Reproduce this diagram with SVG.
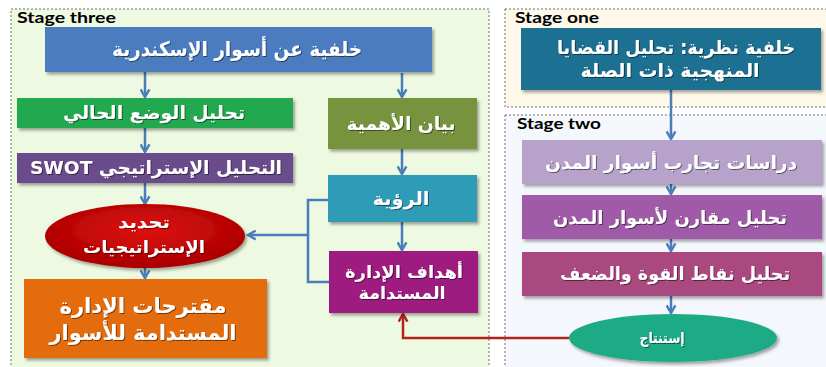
<svg xmlns="http://www.w3.org/2000/svg" width="826" height="367" viewBox="0 0 826 367">
<defs>
<style>
.panel{stroke:#6e6e6e;stroke-width:1;stroke-dasharray:2,2}
.stage{font-family:Lato,"Open Sans","DejaVu Sans",sans-serif;font-weight:bold;font-size:16px;fill:#000}
.t{font-family:"DejaVu Sans",sans-serif;font-weight:bold;fill:#fff;text-anchor:middle;dominant-baseline:central;direction:rtl}
.c{fill:none;stroke:#4a7ebb;stroke-width:2.5}
.cr{fill:none;stroke:#b3221c;stroke-width:2.5}
.box{filter:url(#sh)}
</style>
<filter id="sh" x="-10%" y="-10%" width="130%" height="140%">
<feDropShadow dx="2" dy="2.5" stdDeviation="1.5" flood-color="#000" flood-opacity="0.35"/>
</filter>
<filter id="ts" x="-5%" y="-20%" width="110%" height="150%">
<feDropShadow dx="1" dy="1" stdDeviation="0.6" flood-color="#000" flood-opacity="0.5"/>
</filter>
<radialGradient id="redg" cx="50%" cy="40%" r="60%">
<stop offset="0" stop-color="#e01010"/>
<stop offset="1" stop-color="#a80000"/>
</radialGradient>
<marker id="ab" markerUnits="userSpaceOnUse" viewBox="0 0 10 10" refX="8.5" refY="5" markerWidth="11" markerHeight="11" orient="auto">
<path d="M1.5,1 L8.5,5 L1.5,9" fill="none" stroke="#4a7ebb" stroke-width="2.2"/>
</marker>
<marker id="ar" markerUnits="userSpaceOnUse" viewBox="0 0 10 10" refX="8.5" refY="5" markerWidth="11" markerHeight="11" orient="auto">
<path d="M1.5,1 L8.5,5 L1.5,9" fill="none" stroke="#b3221c" stroke-width="2.2"/>
</marker>
</defs>

<g id="panels">
<rect class="panel" x="11" y="9" width="478" height="360" fill="#eef9e1"/>
<rect class="panel" x="505" y="9" width="325" height="98" fill="#fdf8e9"/>
<rect class="panel" x="505" y="115" width="325" height="260" fill="#f4f7fb"/>
<text class="stage" x="17" y="23" textLength="99" lengthAdjust="spacingAndGlyphs">Stage three</text>
<text class="stage" x="515" y="23" textLength="84" lengthAdjust="spacingAndGlyphs">Stage one</text>
<text class="stage" x="517" y="129" textLength="84" lengthAdjust="spacingAndGlyphs">Stage two</text>
</g>

<g id="connectors">
<line class="c" x1="145" y1="72" x2="145" y2="97" marker-end="url(#ab)"/>
<line class="c" x1="402" y1="73" x2="402" y2="97" marker-end="url(#ab)"/>
<line class="c" x1="145" y1="128" x2="145" y2="152" marker-end="url(#ab)"/>
<line class="c" x1="145" y1="183" x2="145" y2="204" marker-end="url(#ab)"/>
<line class="c" x1="145" y1="268" x2="145" y2="278" marker-end="url(#ab)"/>
<line class="c" x1="402" y1="149" x2="402" y2="174" marker-end="url(#ab)"/>
<line class="c" x1="402" y1="222" x2="402" y2="250" marker-end="url(#ab)"/>
<polyline class="c" points="328,200 308,200 308,282 329,282"/>
<line class="c" x1="308" y1="235" x2="248" y2="235" marker-end="url(#ab)"/>
<line class="c" x1="671" y1="90" x2="671" y2="139" marker-end="url(#ab)"/>
<line class="c" x1="671" y1="184" x2="671" y2="194" marker-end="url(#ab)"/>
<line class="c" x1="671" y1="239" x2="671" y2="251" marker-end="url(#ab)"/>
<line class="c" x1="671" y1="296" x2="671" y2="313" marker-end="url(#ab)"/>
<polyline class="cr" points="569,338 403,338 403,314" marker-end="url(#ar)"/>
</g>

<g id="n-background-alex">
<rect class="box" x="45" y="27" width="387" height="45" fill="#4b7bbf"/>
<text class="t" x="237" y="49" font-size="20" textLength="250" lengthAdjust="spacingAndGlyphs" filter="url(#ts)">خلفية عن أسوار الإسكندرية</text>
</g>
<g id="n-current-status">
<rect class="box" x="17" y="98" width="276" height="30" fill="#22a94f"/>
<text class="t" x="154" y="112" font-size="18" textLength="182" lengthAdjust="spacingAndGlyphs" filter="url(#ts)">تحليل الوضع الحالي</text>
</g>
<g id="n-swot">
<rect class="box" x="17" y="153" width="276" height="30" fill="#6a4c8c"/>
<text class="t" x="156" y="167" font-size="18" textLength="252" lengthAdjust="spacingAndGlyphs" filter="url(#ts)">التحليل الإستراتيجي SWOT</text>
</g>
<g id="n-strategies">
<ellipse class="box" cx="145" cy="236" rx="100" ry="32" fill="url(#redg)"/>
<text class="t" x="144" y="222" font-size="17" textLength="52" lengthAdjust="spacingAndGlyphs" filter="url(#ts)">تحديد</text>
<text class="t" x="144" y="247" font-size="17" textLength="122" lengthAdjust="spacingAndGlyphs" filter="url(#ts)">الإستراتيجيات</text>
</g>
<g id="n-proposals">
<rect class="box" x="24" y="279" width="243" height="79" fill="#e46c0a"/>
<text class="t" x="143" y="306" font-size="21" textLength="167" lengthAdjust="spacingAndGlyphs" filter="url(#ts)">مقترحات الإدارة</text>
<text class="t" x="143" y="333" font-size="21" textLength="187" lengthAdjust="spacingAndGlyphs" filter="url(#ts)">المستدامة للأسوار</text>
</g>
<g id="n-importance">
<rect class="box" x="328" y="98" width="149" height="51" fill="#77933c"/>
<text class="t" x="401" y="123" font-size="18" textLength="109" lengthAdjust="spacingAndGlyphs" filter="url(#ts)">بيان الأهمية</text>
</g>
<g id="n-vision">
<rect class="box" x="328" y="175" width="149" height="47" fill="#2d9cb6"/>
<text class="t" x="401" y="198" font-size="18" textLength="57" lengthAdjust="spacingAndGlyphs" filter="url(#ts)">الرؤية</text>
</g>
<g id="n-goals">
<rect class="box" x="329" y="251" width="149" height="62" fill="#9e1a80"/>
<text class="t" x="404" y="272" font-size="17" textLength="118" lengthAdjust="spacingAndGlyphs" filter="url(#ts)">أهداف الإدارة</text>
<text class="t" x="402" y="293" font-size="17" textLength="87" lengthAdjust="spacingAndGlyphs" filter="url(#ts)">المستدامة</text>
</g>
<g id="n-theory">
<rect class="box" x="521" y="28" width="300" height="62" fill="#1f6f92"/>
<text class="t" x="676" y="47" font-size="19" textLength="238" lengthAdjust="spacingAndGlyphs" filter="url(#ts)">خلفية نظرية: تحليل القضايا</text>
<text class="t" x="670" y="70" font-size="19" textLength="179" lengthAdjust="spacingAndGlyphs" filter="url(#ts)">المنهجية ذات الصلة</text>
</g>
<g id="n-experiences">
<rect class="box" x="522" y="140" width="300" height="44" fill="#b6a2cb"/>
<text class="t" x="671" y="162" font-size="18" textLength="252" lengthAdjust="spacingAndGlyphs" filter="url(#ts)">دراسات تجارب أسوار المدن</text>
</g>
<g id="n-comparative">
<rect class="box" x="522" y="195" width="300" height="44" fill="#9f5aa8"/>
<text class="t" x="670" y="217" font-size="18" textLength="234" lengthAdjust="spacingAndGlyphs" filter="url(#ts)">تحليل مقارن لأسوار المدن</text>
</g>
<g id="n-strength-weakness">
<rect class="box" x="522" y="252" width="300" height="44" fill="#a94880"/>
<text class="t" x="675" y="273" font-size="18" textLength="230" lengthAdjust="spacingAndGlyphs" filter="url(#ts)">تحليل نقاط القوة والضعف</text>
</g>
<g id="n-conclusion">
<ellipse class="box" cx="673" cy="338" rx="104" ry="24" fill="#1fab85"/>
<text class="t" x="662" y="338" font-size="15" textLength="45" lengthAdjust="spacingAndGlyphs" filter="url(#ts)">إستنتاج</text>
</g>
</svg>
